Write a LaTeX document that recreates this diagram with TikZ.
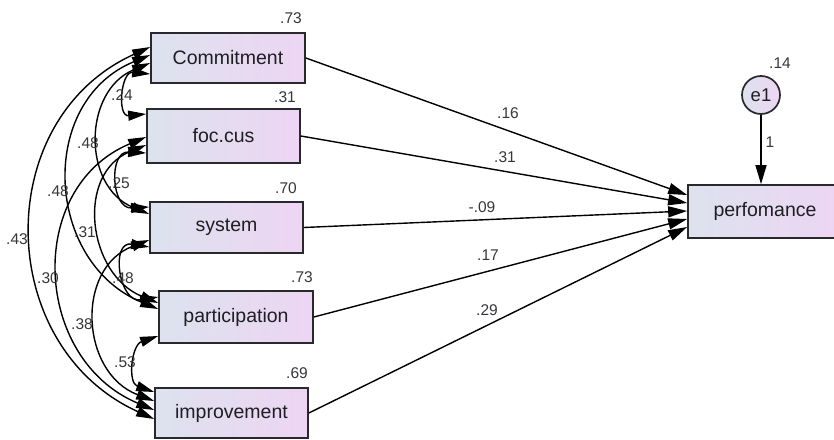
\documentclass[tikz,border=0pt]{standalone}
\usepackage{fontspec}
\setmainfont{Liberation Sans}
\usetikzlibrary{arrows.meta,calc}
\definecolor{boxL}{RGB}{221,226,238}
\definecolor{boxR}{RGB}{237,213,243}
\definecolor{edge}{RGB}{40,40,45}
\definecolor{txt}{RGB}{30,30,35}
\definecolor{num}{RGB}{55,55,60}
\begin{document}
\begin{tikzpicture}[x=1pt,y=-1pt,
  var/.style={draw=edge, line width=1.7pt, left color=boxL, right color=boxR, inner sep=0pt,
    font=\fontsize{19.5}{20}\selectfont, text=txt},
  cov/.style={line width=1.4pt, draw=black, {Triangle[length=18pt,width=10pt]}-{Triangle[length=18pt,width=10pt]}},
  reg/.style={line width=1.4pt, draw=black, -{Triangle[length=19pt,width=11pt]}},
  lab/.style={font=\fontsize{15.5}{16}\selectfont, text=num, inner sep=0pt}]
\useasboundingbox (0,0) rectangle (834,439);
\clip (0,0) rectangle (834,439);
\fill[white] (0,0) rectangle (834,439);

% observed variables
\node[var, minimum width=154pt, minimum height=50pt] (C) at (228,58) {Commitment};
\node[var, minimum width=153pt, minimum height=54pt] (F) at (223.5,136) {foc.cus};
\node[var, minimum width=153pt, minimum height=51pt] (S) at (226.5,227.5) {system};
\node[var, minimum width=154pt, minimum height=52pt] (P) at (236,317) {participation};
\node[var, minimum width=153pt, minimum height=50pt] (I) at (231.5,413) {improvement};
\node[var, minimum width=154pt, minimum height=53pt] (Y) at (765,211.5) {perfomance};
\node[var, circle, minimum size=38pt, font=\fontsize{18.5}{19}\selectfont] (E) at (761,95) {e1};

% covariance end points
\coordinate (Ci) at ($(C.west)+(0,-11)$);
\coordinate (Cp) at ($(C.west)+(0,-3)$);
\coordinate (Cs) at ($(C.west)+(0,5)$);
\coordinate (Cf) at ($(C.west)+(0,16)$);
\coordinate (Fc) at ($(F.west)+(0,-22)$);
\coordinate (Fi) at ($(F.west)+(0,1)$);
\coordinate (Fp) at ($(F.west)+(0,9)$);
\coordinate (Fs) at ($(F.west)+(0,17)$);
\coordinate (Sf) at ($(S.west)+(0,-20.5)$);
\coordinate (Sc) at ($(S.west)+(0,-13.5)$);
\coordinate (Si) at ($(S.west)+(0,12.5)$);
\coordinate (Sp) at ($(S.west)+(0,19.5)$);
\coordinate (Ps) at ($(P.west)+(0,-20)$);
\coordinate (Pf) at ($(P.west)+(0,-14)$);
\coordinate (Pc) at ($(P.west)+(0,-8)$);
\coordinate (Pi) at ($(P.west)+(0,19)$);
\coordinate (Ip) at ($(I.west)+(0,-21)$);
\coordinate (Is) at ($(I.west)+(0,-12)$);
\coordinate (If) at ($(I.west)+(0,-3)$);
\coordinate (Ic) at ($(I.west)+(0,6)$);

% covariances
\draw[cov] (Cf) .. controls ($(Cf)+(-29.3,-2.8)$) and ($(Fc)+(-29.3,2.8)$) .. (Fc);
\draw[cov] (Fs) .. controls ($(Fs)+(-38,-2.1)$) and ($(Sf)+(-38,2.1)$) .. (Sf);
\draw[cov] (Sp) .. controls ($(Sp)+(-39.3,-6.5)$) and ($(Ps)+(-39.3,6.5)$) .. (Ps);
\draw[cov] (Pi) .. controls ($(Pi)+(-26.7,9.1)$) and ($(Ip)+(-26.7,-9.1)$) .. (Ip);
\draw[cov] (Cs) .. controls ($(Cs)+(-67.3,27.8)$) and ($(Sc)+(-67.3,-27.8)$) .. (Sc);
\draw[cov] (Fp) .. controls ($(Fp)+(-70.7,29)$) and ($(Pf)+(-70.7,-29)$) .. (Pf);
\draw[cov] (Si) .. controls ($(Si)+(-74,28.2)$) and ($(Is)+(-74,-28.2)$) .. (Is);
\draw[cov] (Cp) .. controls ($(Cp)+(-113.3,46.7)$) and ($(Pc)+(-113.3,-46.7)$) .. (Pc);
\draw[cov] (Fi) .. controls ($(Fi)+(-121.3,50.6)$) and ($(If)+(-121.3,-50.6)$) .. (If);
\draw[cov] (Ci) .. controls ($(Ci)+(-160,72.4)$) and ($(Ic)+(-160,-72.4)$) .. (Ic);

% regression end points
\coordinate (Yc) at ($(Y.west)+(0,-16.5)$);
\coordinate (Yf) at ($(Y.west)+(0,-8.5)$);
\coordinate (Ys) at ($(Y.west)+(0,-0.5)$);
\coordinate (Yp) at ($(Y.west)+(0,7.5)$);
\coordinate (Yi) at ($(Y.west)+(0,15.5)$);
\draw[reg] (C.east) -- (Yc);
\draw[reg] (F.east) -- (Yf);
\draw[reg] (S.east) -- (Ys);
\draw[reg] (P.east) -- (Yp);
\draw[reg] (I.east) -- (Yi);
\draw[reg] (E.south) -- (E.south |- Y.north);

% variances
\node[lab] (vC) at (291,18) {.73};
\node[lab] (vF) at (285,97) {.31};
\node[lab] (vS) at (286,188) {.70};
\node[lab] (vP) at (302,277) {.73};
\node[lab] (vI) at (297,373) {.69};
\node[lab] (vE) at (780,63) {.14};
\node[lab] (w1) at (770,142) {1};

% regression weights
\node[lab] (bC) at (508,113) {.16};
\node[lab] (bF) at (505,157) {.31};
\node[lab] (bS) at (482,207) {-.09};
\node[lab] (bP) at (488,255) {.17};
\node[lab] (bI) at (487,310) {.29};

% covariance values
\node[lab] (cCF) at (122,95) {.24};
\node[lab] (cFS) at (119,183) {.25};
\node[lab] (cSP) at (123,278) {.48};
\node[lab] (cPI) at (125,362) {.53};
\node[lab] (cCS) at (88,143) {.48};
\node[lab] (cFP) at (85,232) {.31};
\node[lab] (cSI) at (82,324) {.38};
\node[lab] (cCP) at (58,191) {.48};
\node[lab] (cFI) at (48,278) {.30};
\node[lab] (cCI) at (17,239) {.43};
\end{tikzpicture}
\end{document}
